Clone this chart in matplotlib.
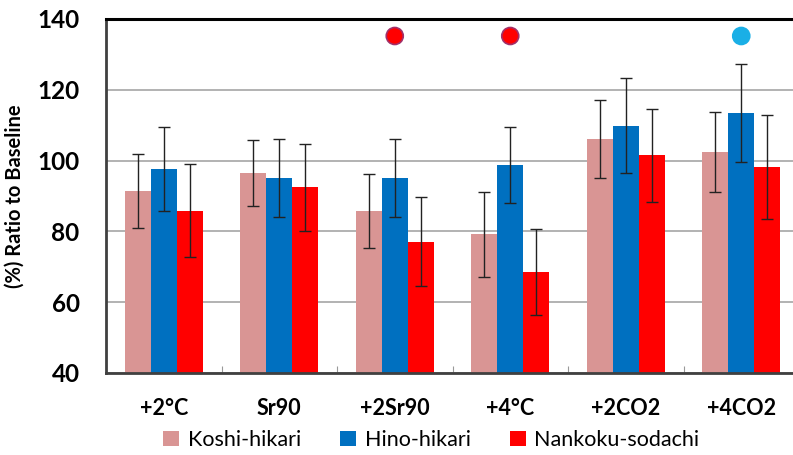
import matplotlib.pyplot as plt
import numpy as np

categories = ['+2°C', 'Sr90', '+2Sr90', '+4°C', '+2CO2', '+4CO2']
series = ['Koshi-hikari', 'Hino-hikari', 'Nankoku-sodachi']
colors = ['#D99594', '#0070C0', '#FF0000']

koshi = [91.5, 96.5, 85.8, 79.2, 106.0, 102.5]
koshi_err = [10.5, 9.3, 10.5, 12.0, 11.0, 11.3]
hino = [97.6, 95.0, 95.0, 98.8, 109.9, 113.5]
hino_err = [11.8, 11.0, 11.0, 10.8, 13.4, 13.8]
nankoku = [85.8, 92.5, 77.1, 68.6, 101.5, 98.3]
nankoku_err = [13.1, 12.3, 12.6, 12.2, 13.1, 14.7]

# significance markers (category index, value, colour)
sig_idx = [2, 3, 5]
sig_val = [135.2, 135.2, 135.2]
sig_col = ['#FF0000', '#FF0000', '#1AAFE6']
sig_edge = ['#A0306A', '#A0306A', '#1AAFE6']

plt.rcParams['font.family'] = ['Lato', 'DejaVu Sans']

fig = plt.figure(figsize=(7.93, 4.55), dpi=100)
ax = fig.add_axes([106 / 793, 1 - 373 / 455, 693 / 793, 354 / 455])

x = np.arange(len(categories))
w = 0.225
vals = [koshi, hino, nankoku]
errs = [koshi_err, hino_err, nankoku_err]
for i in range(3):
    ax.bar(x + (i - 1) * w, vals[i], w, color=colors[i], label=series[i],
           zorder=2)
    ax.errorbar(x + (i - 1) * w, vals[i], yerr=errs[i], fmt='none',
                ecolor='#222222', elinewidth=1, capsize=4, capthick=1,
                zorder=3)

ax.scatter(x[sig_idx], sig_val, s=150, c=sig_col,
           edgecolors=sig_edge, linewidths=1.2, zorder=4)

ax.set_ylim(40, 140)
ax.set_xlim(-0.5, len(categories) - 0.5)
ax.set_yticks([40, 60, 80, 100, 120, 140])
ax.yaxis.grid(True, color='#A6A6A6', linewidth=1.2, zorder=0)
ax.tick_params(axis='y', length=0, pad=19, labelsize=17.5)
for t in ax.get_yticklabels():
    t.set_fontweight('bold')

ax.set_xticks(x + 0.5, minor=False)
ax.set_xticklabels([])
ax.tick_params(axis='x', direction='in', length=5, color='#999999')
for xi, lab in zip(x, categories):
    ax.text(xi, -0.1, lab, transform=ax.get_xaxis_transform(),
            ha='center', va='center', fontsize=15.5, fontweight='bold')

ax.set_ylabel('(%) Ratio to Baseline', fontsize=14.5, fontweight='bold')
ax.yaxis.set_label_coords((25 - 106) / 693, 0.5)

ax.spines['top'].set_color('black')
ax.spines['top'].set_linewidth(2.2)
ax.spines['left'].set_color('#404040')
ax.spines['left'].set_linewidth(2)
ax.spines['bottom'].set_color('#404040')
ax.spines['bottom'].set_linewidth(2)
ax.spines['right'].set_visible(False)

leg = fig.legend(loc='center', bbox_to_anchor=(0.544, 1 - 440 / 455), ncol=3,
                 frameon=False, fontsize=15.5, handlelength=0.75,
                 handleheight=0.75, handletextpad=0.4, columnspacing=1.8)

fig.savefig('out.png', dpi=100)
